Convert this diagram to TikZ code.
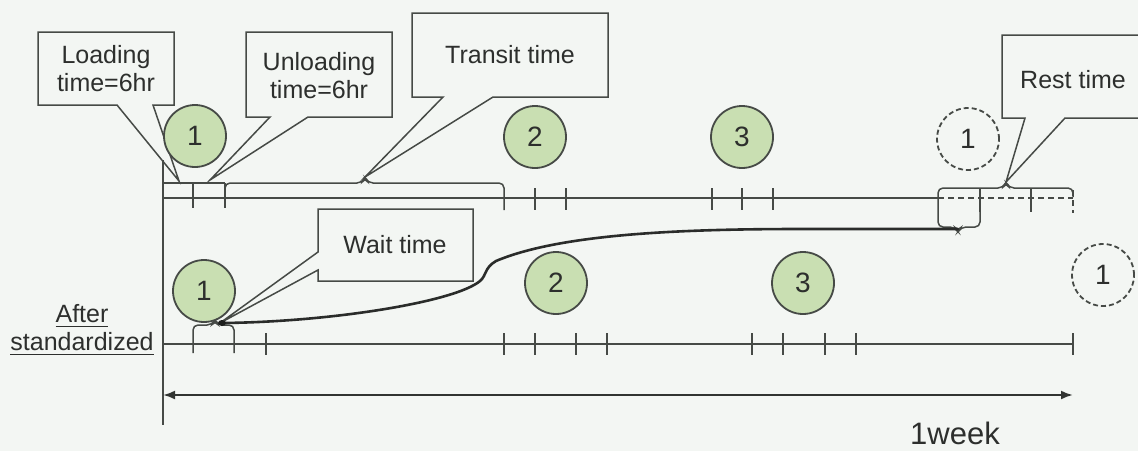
\documentclass[tikz,border=0pt]{standalone}
\usepackage{fontspec}
\setmainfont{Liberation Sans}
\usetikzlibrary{arrows.meta}
\definecolor{fondo}{RGB}{243,246,243}
\definecolor{linea}{RGB}{70,74,70}
\definecolor{verde}{RGB}{201,223,178}
\definecolor{texto}{RGB}{45,47,45}
\begin{document}
\begin{tikzpicture}[x=0.5pt,y=-0.5pt,
    trazo/.style={draw=linea,line width=0.75pt},
    globo/.style={trazo,fill=fondo,line join=miter},
    rotulo/.style={align=center,text=texto,font=\fontsize{12.5}{14}\selectfont},
    viaje/.style={circle,draw=linea,fill=verde,line width=0.9pt,minimum size=31pt,inner sep=0pt,text=texto,font=\fontsize{14}{14}\selectfont},
    vuelta/.style={viaje,fill=none,dash pattern=on 2.5pt off 1.5pt},
    llave/.style={trazo,rounded corners=2.5pt}]
	% Fondo
		\clip (0,0) rectangle (1138,451);
		\fill[fondo] (0,0) rectangle (1138,451);
	% Globos
		\draw[globo] (38,32) -- (174,32) -- (174,105) -- (153,105) -- (179,181) -- (117,105) -- (38,105) -- cycle;
		\node[rotulo] (carga) at (106,69) {Loading\\time=6hr};
		\draw[globo] (246,32) -- (392,32) -- (392,117) -- (308,117) -- (210,180) -- (270,117) -- (246,117) -- cycle;
		\node[rotulo] (descarga) at (319,76) {Unloading\\time=6hr};
		\draw[globo] (412,13) -- (608,13) -- (608,97) -- (493,97) -- (365,177) -- (443,97) -- (412,97) -- cycle;
		\node[rotulo] (transito) at (510,55) {Transit time};
		\draw[globo] (1002,35) -- (1150,35) -- (1150,118) -- (1065,118) -- (1006,182) -- (1025,118) -- (1002,118) -- cycle;
		\node[rotulo] (descanso) at (1073,80) {Rest time};
		\draw[globo] (318,209) -- (473,209) -- (473,281) -- (318,281) -- (318,270) -- (220,323) -- (318,252) -- cycle;
		\node[rotulo] (espera) at (395,245) {Wait time};
	% Eje
		\draw[trazo] (163,160) -- (163,425);
	% Antes
		\draw[trazo] (163,198) -- (938,198);
		\draw[trazo,dash pattern=on 3pt off 2pt] (938,198) -- (1073,198);
		\draw[trazo,dash pattern=on 3pt off 2pt] (1073,190) -- (1073,213);
		\draw[trazo] (163,183) -- (225,183);
		\foreach \x in {193,225} \draw[trazo] (\x,183) -- (\x,208);
		\foreach \x in {535,566,712,742,773} \draw[trazo] (\x,188) -- (\x,210);
		\foreach \x in {980,1031} \draw[trazo] (\x,188) -- (\x,212);
		\draw[llave] (225,200) -- (225,183) -- (362,183) -- (365,177) -- (368,183) -- (504,183) -- (504,210);
		\draw[llave] (938,198) -- (938,188) -- (1003,188) -- (1006,182) -- (1009,188) -- (1073,188) -- (1073,197);
		\draw[llave] (938,198) -- (938,227) -- (955,227) -- (958,232) -- (961,227) -- (980,227) -- (980,212);
	% Despues
		\draw[trazo] (163,344) -- (1073,344);
		\foreach \x in {266,504,535,576,607,752,783,825,856,1073} \draw[trazo] (\x,333) -- (\x,355);
		\draw[llave] (193,353) -- (193,325) -- (212,325) -- (215,320) -- (218,325) -- (234,325) -- (234,353);
		\node[rotulo] (despues) at (82,330) {\underline{After}\\\underline{standardized}};
	% Traslado
		\coordinate (origen) at (222,323);
		\coordinate (destino) at (958,229);
		\draw[draw=linea!60!black,line width=1.3pt,line cap=round] (origen) .. controls (330,322) and (455,302) .. (480,281) .. controls (487,275) and (484,268) .. (496,261) .. controls (560,234) and (680,229) .. (800,229) -- (destino);
		\fill[linea!40!black] (origen) ellipse (4 and 3);
	% Viajes
		\node[viaje] (v1) at (195,136) {1};
		\node[viaje] (v2) at (535,137) {2};
		\node[viaje] (v3) at (742,137) {3};
		\node[vuelta] (v4) at (968,139) {1};
		\node[viaje] (w1) at (204,291) {1};
		\node[viaje] (w2) at (556,283) {2};
		\node[viaje] (w3) at (803,283) {3};
		\node[vuelta] (w4) at (1103,275) {1};
	% Semana
		\coordinate (lunes) at (163,395);
		\coordinate (domingo) at (1073,395);
		\draw[trazo,draw=linea!70!black,line width=1.1pt,{Latex[length=6pt,width=4.5pt]}-{Latex[length=6pt,width=4.5pt]}] (lunes) -- (domingo);
		\node[rotulo,font=\fontsize{15.5}{16}\selectfont] (semana) at (955,433) {1week};
\end{tikzpicture}
\end{document}
